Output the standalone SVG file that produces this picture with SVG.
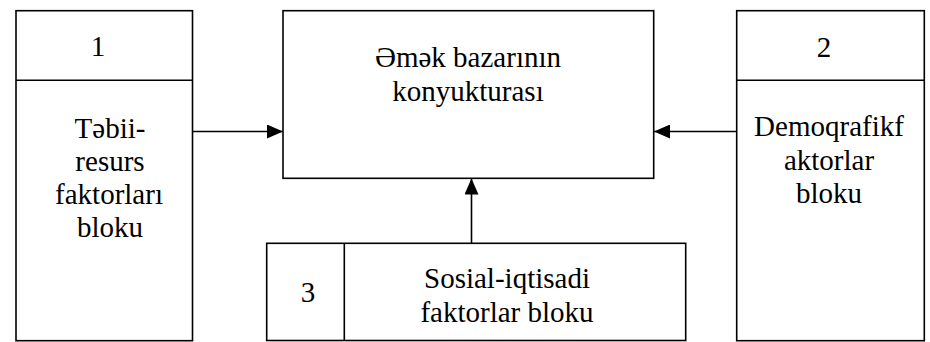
<svg xmlns="http://www.w3.org/2000/svg" width="930" height="342" viewBox="0 0 930 342">
<defs>
<style>
.box{fill:#fff;stroke:#000;stroke-width:1.6}
.ln{stroke:#000;stroke-width:1.6;fill:none}
.t{font-family:'Liberation Serif','Times New Roman',serif;font-size:29px;fill:#000;text-anchor:middle}
</style>
<marker id="ah" markerWidth="16" markerHeight="14" refX="16" refY="7" orient="auto" markerUnits="userSpaceOnUse">
<path d="M0,0 L16,7 L0,14 Z" fill="#000"/>
</marker>
</defs>
<rect width="930" height="342" fill="#fff"/>
<g id="connectors">
<line class="ln" x1="192" y1="131.5" x2="283" y2="131.5" marker-end="url(#ah)"/>
<line class="ln" x1="737" y1="131.5" x2="654" y2="131.5" marker-end="url(#ah)"/>
<line class="ln" x1="471.5" y1="243" x2="471.5" y2="178.5" marker-end="url(#ah)"/>
</g>
<g id="node-left">
<rect class="box" x="16" y="10.7" width="176.5" height="330"/>
<line class="ln" x1="16" y1="80.3" x2="192.5" y2="80.3"/>
<g class="t">
<text x="98" y="56">1</text>
<text x="110" y="138">Təbii-</text>
<text x="110" y="171">resurs</text>
<text x="109" y="204">faktorları</text>
<text x="110" y="237">bloku</text>
</g>
</g>
<g id="node-center">
<rect class="box" x="283" y="10.7" width="370.7" height="167.6"/>
<g class="t">
<text x="468" y="67">Əmək bazarının</text>
<text x="468" y="101">konyukturası</text>
</g>
</g>
<g id="node-right">
<rect class="box" x="736.7" y="10.7" width="187.6" height="330"/>
<line class="ln" x1="736.7" y1="80.3" x2="924.3" y2="80.3"/>
<g class="t">
<text x="824" y="57">2</text>
<text x="829" y="136">Demoqrafikf</text>
<text x="829" y="170">aktorlar</text>
<text x="829" y="203">bloku</text>
</g>
</g>
<g id="node-bottom">
<rect class="box" x="266.7" y="243.3" width="419" height="97.2"/>
<line class="ln" x1="344.3" y1="243.3" x2="344.3" y2="340.5"/>
<g class="t">
<text x="308" y="302">3</text>
<text x="507" y="288">Sosial-iqtisadi</text>
<text x="507" y="322">faktorlar bloku</text>
</g>
</g>
</svg>
